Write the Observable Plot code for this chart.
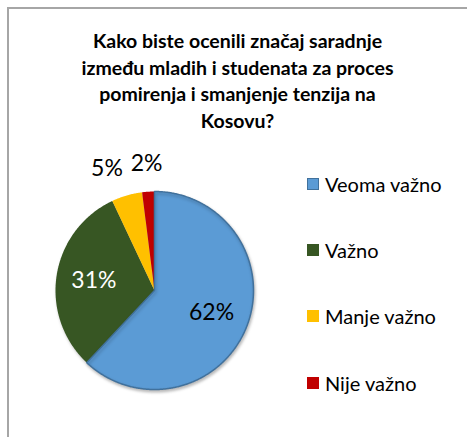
<!DOCTYPE html>
<html>
<head>
<meta charset="utf-8">
<script src="https://cdn.jsdelivr.net/npm/d3@7"></script>
<script src="https://cdn.jsdelivr.net/npm/@observablehq/plot@0.6"></script>
<style>
  html, body { margin: 0; padding: 0; background: #fff; overflow: hidden; }
  #wrap { position: relative; width: 467px; height: 437px; overflow: hidden; font-family: Lato, "Open Sans", sans-serif; }
  #frame { position: absolute; left: 7px; top: 7px; width: 480px; height: 450px; border: 2px solid #a6a6a6; box-sizing: border-box; }
  #title { position: absolute; left: 8px; width: 459px; top: 28px; text-align: center; font-weight: bold; font-size: 19.5px; line-height: 26.5px; color: #000; }
  #chart { position: absolute; left: 0; top: 140px; }
  #chart svg g[aria-label="line"] { filter: drop-shadow(1px 2px 1.5px rgba(0,0,0,0.25)); }
  #legend { position: absolute; left: 307px; top: 151px; }
  .item { height: 66.2px; display: flex; align-items: center; font-size: 20px; color: #000; }
  .sw { width: 12px; height: 12px; margin-right: 6px; box-sizing: border-box; }
</style>
</head>
<body>
<div id="wrap">
  <div id="frame"></div>
  <div id="title"></div>
  <div id="chart"></div>
  <div id="legend"></div>
</div>
<script>
const titleLines = ["Kako biste ocenili značaj saradnje", "između mladih i studenata za proces", "pomirenja i smanjenje tenzija na", "Kosovu?"];
const categories = ["Veoma važno", "Važno", "Manje važno", "Nije važno"];
const values = [62, 31, 5, 2];
const labels = ["62%", "31%", "5%", "2%"];
const colors = ["#5B9BD5", "#375623", "#FFC000", "#C00000"];

document.getElementById("title").innerHTML = titleLines.join("<br>");

// pie geometry (unit circle; clockwise from 12 o'clock)
const total = d3.sum(values);
const slices = [];
let acc = 0;
values.forEach((v, i) => {
  const a0 = acc / total, a1 = (acc + v) / total;
  acc += v;
  slices.push({category: categories[i], label: labels[i], color: colors[i], a0, a1, frac: v / total});
});

const points = [];
for (const s of slices) {
  const t0 = s.a0 * 2 * Math.PI, t1 = s.a1 * 2 * Math.PI;
  const n = Math.max(2, Math.ceil((t1 - t0) / (Math.PI / 360)));
  points.push({category: s.category, x: 0, y: 0});
  for (let k = 0; k <= n; k++) {
    const t = t0 + (t1 - t0) * k / n;
    points.push({category: s.category, x: Math.sin(t), y: Math.cos(t)});
  }
  points.push({category: s.category, x: 0, y: 0});
}

// labels: inside for large slices, outside (with simple collision push) for small ones
const R_IN = 0.62, R_OUT = 1.28, MIN_SEP = 0.40;
const labelData = slices.map(s => {
  const t = (s.a0 + s.a1) * Math.PI;
  const inside = s.frac >= 0.1;
  const r = inside ? R_IN : R_OUT;
  const dark = d3.hsl(s.color).l < 0.35;
  return {label: s.label, x: Math.sin(t) * r, y: Math.cos(t) * r, inside, fill: inside && dark ? "#fff" : "#000"};
});
const outside = labelData.filter(d => !d.inside).sort((a, b) => b.x - a.x);
for (let i = 1; i < outside.length; i++) {
  if (outside[i].x > outside[i - 1].x - MIN_SEP) outside[i].x = outside[i - 1].x - MIN_SEP;
}

const W = 300, H = 297, K = 99, CX = 154, CY = 150;
const chart = Plot.plot({
  width: W, height: H,
  margin: 0,
  x: {domain: [-CX / K, (W - CX) / K], axis: null},
  y: {domain: [-(H - CY) / K, CY / K], axis: null},
  color: {domain: categories, range: colors},
  marks: [
    Plot.line(points, {x: "x", y: "y", z: "category", fill: "category", stroke: "none", curve: "linear"}),
    Plot.line(points.filter(p => p.category === categories[0]), {x: "x", y: "y", stroke: "#41719C", strokeWidth: 1.5, fill: "none"}),
    Plot.text(labelData, {x: "x", y: "y", text: "label", fill: "fill", fontSize: 23, fontFamily: "Lato, 'Open Sans', sans-serif"})
  ]
});
document.getElementById("chart").appendChild(chart);

const legend = document.getElementById("legend");
categories.forEach((c, i) => {
  const row = document.createElement("div");
  row.className = "item";
  const sw = document.createElement("div");
  sw.className = "sw";
  sw.style.background = colors[i];
  if (i === 0) sw.style.border = "1.5px solid #41719C";
  row.appendChild(sw);
  const tx = document.createElement("span");
  tx.textContent = c;
  row.appendChild(tx);
  legend.appendChild(row);
});
</script>
</body>
</html>
